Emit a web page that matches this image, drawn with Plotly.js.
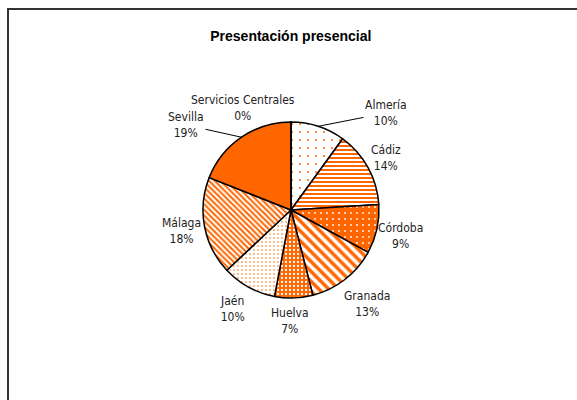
<!DOCTYPE html>
<html>
<head>
<meta charset="utf-8">
<script src="https://cdn.plot.ly/plotly-3.0.1.min.js"></script>
<style>
html,body{margin:0;padding:0;background:#fff;}
#frame{position:absolute;left:7px;top:8px;width:620px;height:420px;border-left:2px solid #333;border-top:2px solid #333;}
#chart{position:absolute;left:0;top:0;width:577px;height:400px;}
</style>
</head>
<body>
<div id="frame"></div>
<div id="chart"></div>
<script>
const categories = ["Almería","Cádiz","Córdoba","Granada","Huelva","Jaén","Málaga","Sevilla","Servicios Centrales"];
const values = [10,14,9,13,7,10,18,19,0];

// label placement (pixel centres of the two-line labels) and which get leader lines
const labelPx = [[386,113],[386,158],[400,236],[367,304],[290,321],[232,309],[181,231],[186,125],[243,108]];
const leader =  [true,false,false,false,false,false,false,true,false];

const OR = "#FF6600";
const W = "#FFFFFF";
const patShapes = [".", "-", ".", "\\", ".", ".", "\\", "", ""];
const patBg =     [W, W, OR, W, OR, W, W, OR, OR];
const patFg =     [OR, OR, W, OR, W, OR, OR, OR, OR];
const patSize =   [8, 4, 6, 7, 4, 4, 4, 8, 8];
const patSol =    [0.05, 0.5, 0.07, 0.5, 0.25, 0.13, 0.5, 0.3, 0.3];

const font = "DejaVu Sans Condensed, Liberation Sans Narrow, Arial Narrow, sans-serif";
const W_PX = 577, H_PX = 400;
const dom = {x: [0.3518, 0.6568], y: [0.255, 0.695]};

const trace = {
  type: "pie",
  labels: categories,
  values: values,
  sort: false,
  direction: "clockwise",
  rotation: 0,
  textinfo: "none",
  marker: {
    colors: patBg,
    line: {color: "#000", width: 1.5},
    pattern: {shape: patShapes, bgcolor: patBg, fgcolor: patFg, size: patSize, solidity: patSol, fillmode: "replace"}
  },
  domain: dom,
  showlegend: false,
  hoverinfo: "label+percent"
};

// pie geometry derived from the domain
const cx = (dom.x[0] + dom.x[1]) / 2, cy = (dom.y[0] + dom.y[1]) / 2;
const rPx = Math.min((dom.x[1]-dom.x[0]) * W_PX, (dom.y[1]-dom.y[0]) * H_PX) / 2;
const total = values.reduce((a,b)=>a+b, 0);
let cum = 0;
const annotations = categories.map((c, i) => {
  const pct = Math.round(values[i] / total * 100);
  const mid = (cum + values[i] / 2) / total * 2 * Math.PI;
  cum += values[i];
  const [lx, ly] = labelPx[i];
  const base = {
    text: c + "<br>" + pct + "%",
    xref: "paper", yref: "paper",
    font: {family: font, size: 12, color: "#222"},
    align: "center"
  };
  if (leader[i]) {
    const px = cx * W_PX + rPx * Math.sin(mid);
    const py = (1 - cy) * H_PX - rPx * Math.cos(mid);
    return Object.assign(base, {
      x: px / W_PX, y: 1 - py / H_PX,
      showarrow: true, arrowhead: 0, arrowwidth: 1, arrowcolor: "#000",
      ax: lx - px, ay: ly - py, standoff: 0
    });
  }
  return Object.assign(base, {x: lx / W_PX, y: 1 - ly / H_PX, showarrow: false, xanchor: "center", yanchor: "middle"});
});

const layout = {
  width: W_PX, height: H_PX,
  margin: {l: 0, r: 0, t: 0, b: 0},
  paper_bgcolor: "rgba(0,0,0,0)",
  plot_bgcolor: "rgba(0,0,0,0)",
  title: {text: "<b>Presentación presencial</b>", x: 0.504, xanchor: "center", y: 0.91, yanchor: "middle",
          font: {family: "Liberation Sans, Arial, sans-serif", size: 14, color: "#000"}},
  annotations: annotations,
  showlegend: false
};

Plotly.newPlot("chart", [trace], layout, {displayModeBar: false, staticPlot: true});
</script>
</body>
</html>
